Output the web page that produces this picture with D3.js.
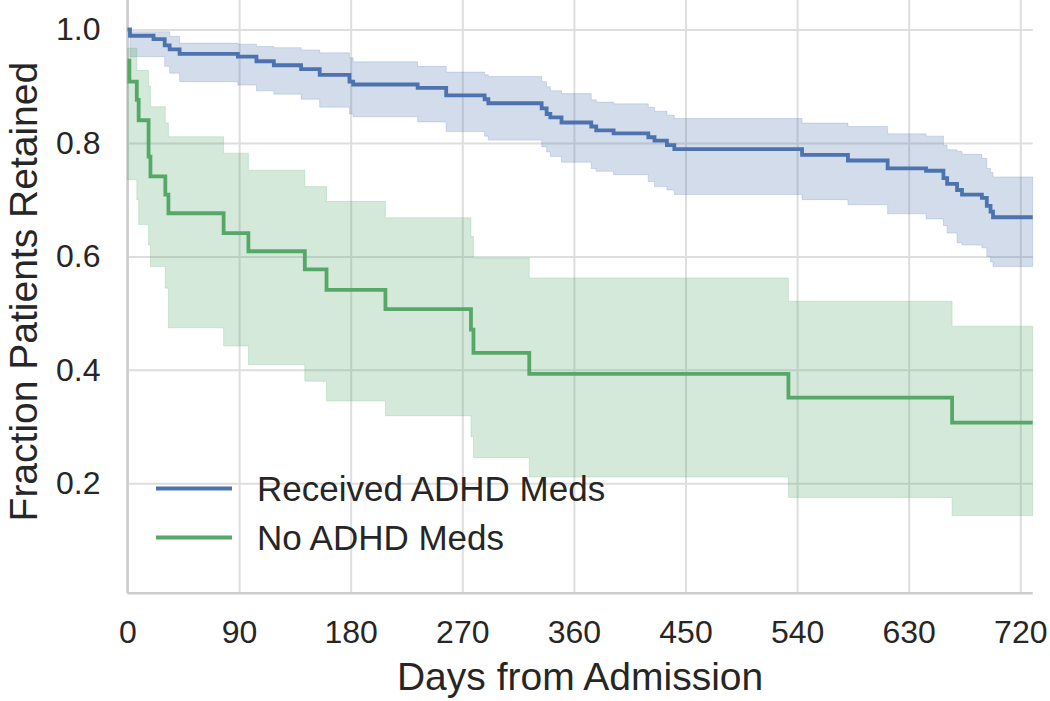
<!DOCTYPE html>
<html>
<head>
<meta charset="utf-8">
<script src="https://cdn.jsdelivr.net/npm/d3@7"></script>
<style>
  html, body { margin: 0; padding: 0; background: #fff; }
  svg { display: block; font-family: Arial, 'Liberation Sans', sans-serif; }
  .tick text { fill: #262626; font-size: 32px; }
  .axis-label { fill: #262626; font-size: 39px; }
  .legend-label { fill: #262626; font-size: 35px; }
</style>
</head>
<body>
<svg id="graph" width="1050" height="701"></svg>
<script>
// Kaplan-Meier curves (days, fraction retained, CI)
const xTicks = [0, 90, 180, 270, 360, 450, 540, 630, 720];
const yTicks = [0.2, 0.4, 0.6, 0.8, 1.0];
const endDay = 730;

const medsDays = [0, 2, 21, 30, 34, 42, 89, 104, 118, 140, 155, 179, 182, 234, 257, 288, 291,
  334, 338, 341, 350, 374, 378, 392, 420, 425, 435, 441, 544, 581, 613, 644, 658, 661, 669,
  673, 689, 693, 696, 698];
const medsSurv = [1.0, 0.989, 0.983, 0.972, 0.965, 0.957, 0.952, 0.944, 0.937, 0.930, 0.920,
  0.908, 0.903, 0.897, 0.884, 0.877, 0.870, 0.861, 0.851, 0.845, 0.836, 0.829, 0.822, 0.817,
  0.810, 0.804, 0.796, 0.789, 0.779, 0.769, 0.755, 0.751, 0.738, 0.728, 0.717, 0.709, 0.703,
  0.689, 0.679, 0.669];
const medsUpper = [1.0, 0.996, 0.996, 0.996, 0.988, 0.976, 0.974, 0.970, 0.968, 0.964, 0.959,
  0.950, 0.943, 0.935, 0.925, 0.920, 0.917, 0.908, 0.899, 0.892, 0.887, 0.876, 0.872, 0.869,
  0.863, 0.856, 0.849, 0.843, 0.835, 0.829, 0.816, 0.812, 0.796, 0.788, 0.785, 0.780, 0.773,
  0.755, 0.748, 0.740];
const medsLower = [1.0, 0.952, 0.952, 0.935, 0.923, 0.908, 0.902, 0.892, 0.886, 0.877, 0.863,
  0.851, 0.846, 0.837, 0.820, 0.812, 0.805, 0.793, 0.784, 0.776, 0.766, 0.755, 0.750, 0.744,
  0.732, 0.723, 0.717, 0.709, 0.700, 0.691, 0.675, 0.666, 0.654, 0.641, 0.624, 0.620, 0.615,
  0.600, 0.590, 0.582];

const noMedsDays = [0, 1.5, 7.5, 9, 17, 18.5, 30.5, 33, 77.5, 97.5, 143, 160.5, 208, 277, 279,
  324, 533, 665];
const noMedsSurv = [0.945, 0.908, 0.876, 0.840, 0.776, 0.741, 0.709, 0.676, 0.641, 0.609, 0.577,
  0.541, 0.507, 0.471, 0.430, 0.393, 0.351, 0.307];
const noMedsUpper = [0.967, 0.967, 0.928, 0.928, 0.900, 0.864, 0.835, 0.811, 0.782, 0.752, 0.723,
  0.697, 0.668, 0.635, 0.597, 0.562, 0.521, 0.477];
const noMedsLower = [0.735, 0.735, 0.700, 0.656, 0.620, 0.582, 0.544, 0.474, 0.442, 0.409, 0.380,
  0.345, 0.319, 0.282, 0.245, 0.211, 0.175, 0.143];

const seriesNames = ['Received ADHD Meds', 'No ADHD Meds'];
const colors = ['#4c72b0', '#55a868'];

function toRows(days, surv, lower, upper) {
  const rows = days.map((d, i) => ({ day: d, surv: surv[i], lower: lower[i], upper: upper[i] }));
  const last = rows[rows.length - 1];
  rows.push({ ...last, day: endDay });
  return rows;
}

const serieses = [
  toRows(medsDays, medsSurv, medsLower, medsUpper),
  toRows(noMedsDays, noMedsSurv, noMedsLower, noMedsUpper),
];

const svg = d3.select('#graph');
const xScale = d3.scaleLinear().domain([0, endDay]).range([127.5, 1032.7]);
const yScale = d3.scaleLinear().domain([0.006, 1.052]).range([593.3, 0]);

function setupGraph() {
  const [x0, x1] = xScale.range();
  const [y0, y1] = yScale.range();

  // grid
  const xAxisG = svg.append('g').attr('transform', `translate(0,${y0})`);
  xAxisG.call(d3.axisBottom(xScale).tickValues(xTicks).tickFormat(d3.format('d'))
    .tickSize(-(y0 - y1)).tickPadding(27));
  const yAxisG = svg.append('g').attr('transform', `translate(${x0},0)`);
  yAxisG.call(d3.axisLeft(yScale).tickValues(yTicks).tickFormat(d3.format('.1f'))
    .tickSize(-(x1 - x0)).tickPadding(27));

  [xAxisG, yAxisG].forEach((g) => {
    g.select('.domain').remove();
    g.selectAll('.tick line').attr('stroke', '#dedede').attr('stroke-width', 2);
  });

  // spines
  svg.append('line').attr('x1', x0).attr('x2', x0).attr('y1', y1).attr('y2', y0)
    .attr('stroke', '#cccccc').attr('stroke-width', 2.5);
  svg.append('line').attr('x1', x0).attr('x2', x1).attr('y1', y0).attr('y2', y0)
    .attr('stroke', '#cccccc').attr('stroke-width', 2.5);

  const area = d3.area().curve(d3.curveStepAfter)
    .x((d) => xScale(d.day))
    .y0((d) => yScale(d.lower))
    .y1((d) => yScale(d.upper));
  const line = d3.line().curve(d3.curveStepAfter)
    .x((d) => xScale(d.day))
    .y((d) => yScale(d.surv));

  serieses.forEach((rows, index) => {
    svg.append('path')
      .datum(rows)
      .attr('d', area)
      .attr('fill', colors[index])
      .attr('fill-opacity', 0.25)
      .attr('stroke', colors[index])
      .attr('stroke-opacity', 0.2)
      .attr('stroke-width', 1);
  });

  serieses.forEach((rows, index) => {
    svg.append('path')
      .datum(rows)
      .attr('d', line)
      .attr('fill', 'none')
      .attr('stroke', colors[index])
      .attr('stroke-width', 3.8);
  });

  svg.append('text')
    .attr('class', 'axis-label')
    .attr('x', (x0 + x1) / 2)
    .attr('y', 690)
    .attr('text-anchor', 'middle')
    .text('Days from Admission');

  svg.append('text')
    .attr('class', 'axis-label')
    .attr('transform', `translate(37,${(y0 + y1) / 2 - 5}) rotate(-90)`)
    .attr('text-anchor', 'middle')
    .text('Fraction Patients Retained');
}

function setupLegend() {
  const legend = svg.append('g');
  seriesNames.forEach((name, i) => {
    const y = 488.5 + i * 49;
    legend.append('line')
      .attr('x1', 156).attr('x2', 232).attr('y1', y).attr('y2', y)
      .attr('stroke', colors[i]).attr('stroke-width', 3.8);
    legend.append('text')
      .attr('class', 'legend-label')
      .attr('x', 257)
      .attr('y', y)
      .attr('dy', '0.36em')
      .text(name);
  });
}

setupGraph();
setupLegend();
</script>
</body>
</html>
